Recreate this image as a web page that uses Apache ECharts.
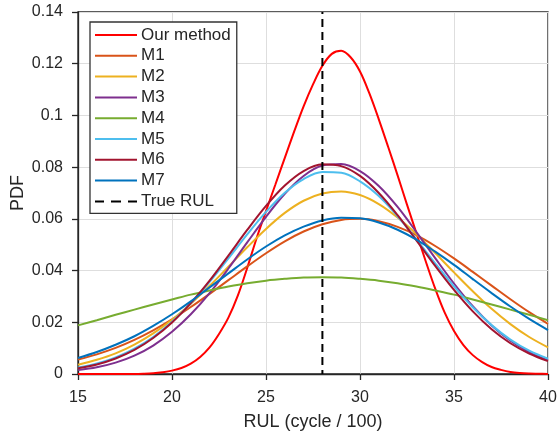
<!DOCTYPE html>
<html>
<head>
<meta charset="utf-8">
<script src="https://cdn.jsdelivr.net/npm/echarts@6/dist/echarts.min.js"></script>
<style>
html,body{margin:0;padding:0;background:#fff;}
#chart{width:558px;height:439px;}
</style>
</head>
<body>
<div id="chart"></div>
<script>
// ---- data ----
const xInt = [15,16,17,18,19,20,21,22,23,24,25,26,27,28,29,30,31,32,33,34,35,36,37,38,39,40];
const xFine = [15,15.5,16,16.5,17,17.5,18,18.5,19,19.5,20,20.5,21,21.5,22,22.5,23,23.5,24,24.5,25,25.5,26,26.5,27,27.5,28,28.5,29,29.5,30,30.5,31,31.5,32,32.5,33,33.5,34,34.5,35,35.5,36,36.5,37,37.5,38,38.5,39,39.5,40];

const ourMethod = [0,0,0,0,0,0,0,0.0001,0.0003,0.0007,0.0013,0.0023,0.0040,0.0066,0.0103,0.0155,0.0218,0.0303,0.0410,0.0525,0.0630,0.0733,0.0836,0.0938,0.1035,0.1120,0.1192,0.1238,0.1250,0.1225,0.1170,0.1085,0.0985,0.0878,0.0768,0.0655,0.0545,0.0435,0.0330,0.0238,0.0166,0.0112,0.0073,0.0046,0.0027,0.0016,0.0008,0.0004,0.0002,0.0001,0];
const m1 = [0.0056,0.0076,0.0101,0.0132,0.0169,0.0211,0.0259,0.0310,0.0363,0.0416,0.0467,0.0513,0.0551,0.0579,0.0596,0.0600,0.0591,0.0569,0.0537,0.0495,0.0447,0.0395,0.0342,0.0289,0.0239,0.0194];
const m2 = [0.0036,0.0055,0.0080,0.0114,0.0157,0.0210,0.0272,0.0341,0.0415,0.0490,0.0561,0.0623,0.0670,0.0698,0.0706,0.0692,0.0657,0.0605,0.0541,0.0468,0.0393,0.0320,0.0252,0.0193,0.0143,0.0103];
const m3 = [0.0015,0.0026,0.0044,0.0071,0.0110,0.0163,0.0231,0.0313,0.0408,0.0509,0.0608,0.0697,0.0766,0.0806,0.0812,0.0785,0.0727,0.0646,0.0549,0.0448,0.0350,0.0262,0.0188,0.0129,0.0085,0.0054];
const m4 = [0.0188,0.0208,0.0229,0.0249,0.0269,0.0288,0.0307,0.0323,0.0338,0.0351,0.0361,0.0368,0.0373,0.0374,0.0373,0.0368,0.0361,0.0351,0.0338,0.0323,0.0307,0.0288,0.0269,0.0249,0.0229,0.0208];
const m5 = [0.0025,0.0041,0.0064,0.0098,0.0143,0.0202,0.0273,0.0356,0.0447,0.0540,0.0627,0.0701,0.0754,0.0781,0.0778,0.0745,0.0688,0.0610,0.0521,0.0428,0.0339,0.0258,0.0189,0.0133,0.0090,0.0059];
const m6 = [0.0022,0.0037,0.0060,0.0093,0.0139,0.0199,0.0274,0.0361,0.0458,0.0557,0.0650,0.0729,0.0785,0.0811,0.0804,0.0766,0.0700,0.0614,0.0517,0.0418,0.0325,0.0242,0.0173,0.0119,0.0079,0.0050];
const m7 = [0.0062,0.0085,0.0113,0.0146,0.0186,0.0231,0.0281,0.0335,0.0389,0.0443,0.0493,0.0536,0.0570,0.0594,0.0604,0.0602,0.0586,0.0558,0.0520,0.0473,0.0422,0.0367,0.0313,0.0261,0.0213,0.0170];

const trueRUL = 28;
const trueRULSpan = [0, 0.14];

const seriesNames = ['Our method','M1','M2','M3','M4','M5','M6','M7','True RUL'];
const xTicks = [15,20,25,30,35,40];
const yTicks = [0,0.02,0.04,0.06,0.08,0.1,0.12,0.14];
const xName = 'RUL (cycle / 100)';
const yName = 'PDF';

// ---- build ----
const colors = ['#FF0000','#D95319','#EDB120','#7E2F8E','#77AC30','#4DBEEE','#A2142F','#0072BD','#000000'];
const zip = (xs, ys) => xs.map((x, i) => [x, ys[i]]);
const curveData = [zip(xFine, ourMethod), zip(xInt, m1), zip(xInt, m2), zip(xInt, m3), zip(xInt, m4), zip(xInt, m5), zip(xInt, m6), zip(xInt, m7)];

const FONT = "'Liberation Sans', Arial, Helvetica, sans-serif";

const series = curveData.map((d, i) => ({
  name: seriesNames[i],
  type: 'line',
  data: d,
  smooth: 0.35,
  symbol: 'none',
  showSymbol: false,
  clip: true,
  lineStyle: { color: colors[i], width: 2 },
  itemStyle: { color: colors[i] },
  emphasis: { disabled: true },
  animation: false
}));
series.push({
  name: seriesNames[8],
  type: 'line',
  data: [[trueRUL, trueRULSpan[1]], [trueRUL, trueRULSpan[0]]],
  symbol: 'none',
  showSymbol: false,
  lineStyle: { color: '#000', width: 2, type: [8, 5], dashOffset: 6 },
  itemStyle: { color: '#000' },
  emphasis: { disabled: true },
  animation: false
});

const legendData = seriesNames.map((n, i) => ({
  name: n,
  icon: i === 8 ? 'path://M0,0h9v2h-9z M16,0h10v2h-10z M33,0h9v2h-9z' : 'rect',
  itemStyle: { color: colors[i] }
}));

const chart = echarts.init(document.getElementById('chart'), null, { renderer: 'canvas' });
chart.setOption({
  backgroundColor: '#fff',
  animation: false,
  textStyle: { fontFamily: FONT },
  grid: { left: 78, right: 10, top: 12, bottom: 65, containLabel: false, outerBoundsMode: 'none',
          show: true, borderColor: '#262626', borderWidth: 1.3, backgroundColor: 'transparent' },
  legend: {
    data: legendData,
    orient: 'vertical',
    left: 90, top: 22,
    padding: [4, 6, 3, 5],
    itemWidth: 42, itemHeight: 2, itemGap: 2.8,
    backgroundColor: '#fff',
    borderColor: '#333',
    borderWidth: 1.3,
    borderRadius: 0,
    selectedMode: false,
    textStyle: { fontFamily: FONT, fontSize: 17, color: '#262626', lineHeight: 18, padding: [0,0,0,-1] }
  },
  xAxis: {
    type: 'value',
    min: xTicks[0], max: xTicks[xTicks.length - 1], interval: xTicks[1] - xTicks[0],
    name: xName, nameLocation: 'middle', nameGap: 39,
    nameTextStyle: { fontFamily: FONT, fontSize: 18, color: '#262626' },
    axisLine: { show: true, onZero: false, lineStyle: { color: '#262626', width: 1.3 } },
    axisTick: { show: true, inside: false, length: 6, lineStyle: { color: '#262626', width: 1.3 } },
    axisLabel: { fontFamily: FONT, fontSize: 16, color: '#262626', margin: 16 },
    splitLine: { show: true, lineStyle: { color: '#dedede', width: 1 } }
  },
  yAxis: {
    type: 'value',
    min: yTicks[0], max: yTicks[yTicks.length - 1], interval: 0.02,
    name: yName, nameLocation: 'middle', nameGap: 51, nameRotate: 90, nameMoveOverlap: false,
    nameTextStyle: { fontFamily: FONT, fontSize: 18, color: '#262626' },
    axisLine: { show: true, lineStyle: { color: '#262626', width: 1.3 } },
    axisTick: { show: true, inside: false, length: 6, lineStyle: { color: '#262626', width: 1.3 } },
    axisLabel: { fontFamily: FONT, fontSize: 16, color: '#262626', margin: 15,
      formatter: v => String(+v.toFixed(2)) },
    splitLine: { show: true, lineStyle: { color: '#dedede', width: 1 } }
  },
  series: series
});
</script>
</body>
</html>
